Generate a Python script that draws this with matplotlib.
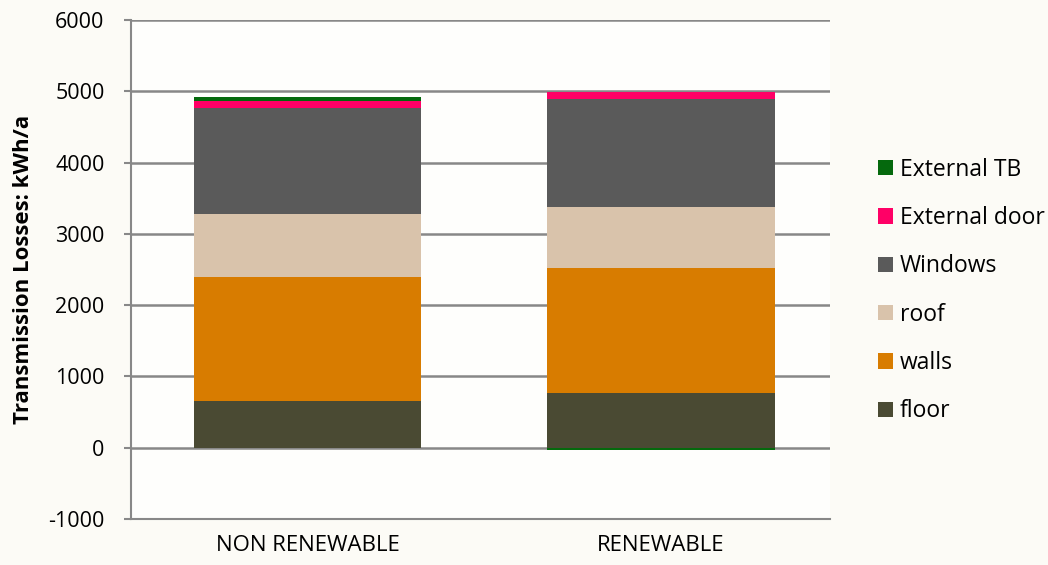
import numpy as np
import matplotlib.pyplot as plt
from matplotlib.patches import Patch

plt.rcParams['font.family'] = ['Open Sans', 'DejaVu Sans']
plt.rcParams['axes.unicode_minus'] = False

# Data (kWh/a)
categories = ["NON RENEWABLE", "RENEWABLE"]
floor = [650, 770]
walls = [1750, 1755]
roof = [880, 855]
windows = [1490, 1515]
external_door = [90, 100]
external_tb = [60, -35]

series = [
    ("floor", floor, "#4a4a33"),
    ("walls", walls, "#d87c00"),
    ("roof", roof, "#d9c3ab"),
    ("Windows", windows, "#5a5a5a"),
    ("External door", external_door, "#ff0066"),
    ("External TB", external_tb, "#05690d"),
]

fig = plt.figure(figsize=(10.48, 5.65), dpi=100, facecolor="#fcfbf6")
ax = fig.add_axes([131 / 1048, 1 - 519 / 565, (830 - 131) / 1048, (519 - 20) / 565])
ax.set_facecolor("#fefefc")

x = np.arange(len(categories))
pos_base = np.zeros(len(categories))
neg_base = np.zeros(len(categories))
handles = []
for name, vals, color in series:
    vals = np.array(vals, dtype=float)
    bottoms = np.where(vals >= 0, pos_base, neg_base)
    ax.bar(x, vals, width=0.643, bottom=bottoms, color=color, zorder=3)
    pos_base += np.where(vals >= 0, vals, 0)
    neg_base += np.where(vals < 0, vals, 0)
    handles.append(Patch(facecolor=color, label=name))

ax.set_xlim(-0.5, 1.478)
ax.set_ylim(-1000, 6000)
ax.set_yticks(np.arange(-1000, 6001, 1000))
ax.set_xticks(x)
ax.set_xticklabels(categories, fontsize=16)
ax.tick_params(axis="y", labelsize=15.5, length=5, color="#888888", width=1.5, pad=14)
ax.tick_params(axis="x", length=0, pad=11.5)
ax.grid(axis="y", color="#888888", linewidth=1.8, zorder=1)
for s in ["top", "right"]:
    ax.spines[s].set_visible(False)
ax.spines["left"].set_color("#888888")
ax.spines["left"].set_linewidth(1.5)
ax.spines["bottom"].set_color("#888888")
ax.spines["bottom"].set_linewidth(1.5)
ax.set_ylabel("Transmission Losses: kWh/a", fontsize=16, fontweight="bold")
ax.yaxis.set_label_coords(-97 / 699, 0.5)

fig.legend(handles=handles[::-1], loc="center left", bbox_to_anchor=(878 / 1048, 1 - 290.5 / 565),
           frameon=False, fontsize=16.5, handlelength=0.65, handleheight=0.65,
           handletextpad=0.3, labelspacing=1.06, borderaxespad=0, borderpad=0)

fig.savefig("out.png", dpi=100, facecolor=fig.get_facecolor())
